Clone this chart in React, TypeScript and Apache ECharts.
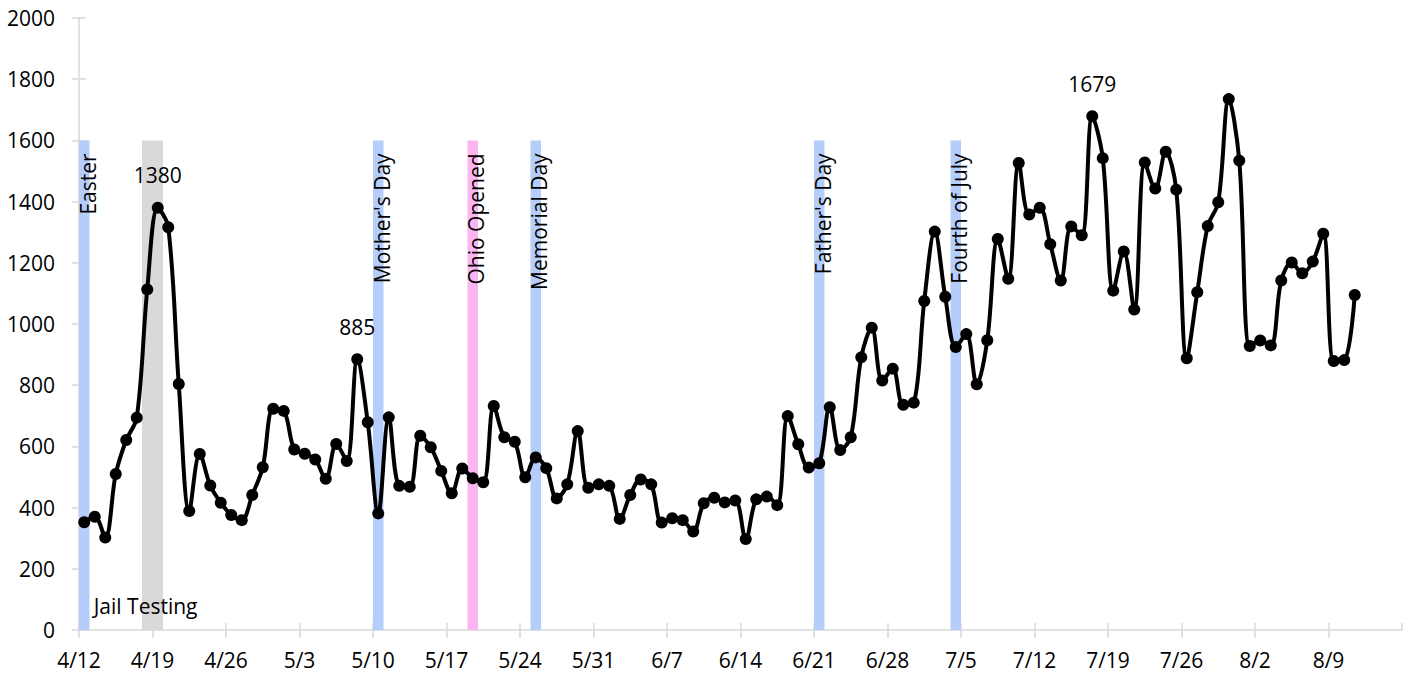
import React, { useEffect, useRef } from "react";
import * as echarts from "echarts";

// Daily values starting 4/12 (2020)
const startYear = 2020;
const startMonth = 4;
const startDay = 12;
const dailyValues: number[] = [
  352, 370, 302, 510, 621, 694, 1113, 1380, 1316, 804,
  389, 575, 472, 416, 376, 359, 441, 532, 723, 716,
  590, 576, 557, 494, 608, 552, 885, 679, 381, 695,
  471, 468, 635, 597, 520, 447, 528, 496, 483, 732,
  630, 615, 499, 564, 529, 430, 476, 650, 465, 476,
  471, 363, 441, 492, 476, 351, 365, 359, 322, 414,
  432, 417, 423, 297, 427, 436, 408, 699, 607, 531,
  545, 728, 588, 630, 891, 988, 815, 854, 736, 743,
  1075, 1302, 1089, 925, 967, 803, 947, 1278, 1148, 1526,
  1358, 1380, 1261, 1142, 1319, 1290, 1679, 1542, 1109, 1237,
  1047, 1528, 1443, 1563, 1439, 888, 1104, 1320, 1398, 1735,
  1534, 928, 946, 930, 1142, 1201, 1166, 1204, 1295, 879,
  882, 1095,
];
// indices (day numbers) whose values are labelled
const labelledDays: number[] = [7, 26, 96];

// event bars (day offset from 4/12, length in days)
const eventNames: string[] = ["Easter", "", "Mother's Day", "Ohio Opened", "Memorial Day", "Father's Day", "Fourth of July"];
const eventStart: number[] = [0, 6, 28, 37, 43, 70, 83];
const eventSpan: number[] = [1, 2, 1, 1, 1, 1, 1];
const eventKind: string[] = ["holiday", "testing", "holiday", "reopen", "holiday", "holiday", "holiday"];
const eventTop = 1600;

// free annotation
const annotationText: string[] = ["Jail Testing"];
const annotationDay: number[] = [1.4];
const annotationValue: number[] = [80];

// axes
const xMin = 0;
const xMax = 126;
const xInterval = 7;
const yMin = 0;
const yMax = 2000;
const yInterval = 200;

const kindColor: Record<string, string> = {
  holiday: "#b4cdfa",
  testing: "#d9d9d9",
  reopen: "#fbb6f1",
};

const FONT = "'Open Sans', Lato, sans-serif";
const FS = 21;

function dayLabel(u: number): string {
  const d = new Date(startYear, startMonth - 1, startDay + u);
  return `${d.getMonth() + 1}/${d.getDate()}`;
}

export default function App() {
  const ref = useRef<HTMLDivElement>(null);
  useEffect(() => {
    if (!ref.current) return;
    const chart = echarts.init(ref.current, undefined, { renderer: "svg" });

    const lineData = dailyValues.map((v, i) => {
      const item: any = { value: [i + 0.5, v] };
      if (labelledDays.includes(i)) {
        item.label = { show: true };
      }
      return item;
    });

    const eventData = eventStart.map((s, i) => [s, s + eventSpan[i], i]);
    const annData = annotationText.map((t, i) => [annotationDay[i], annotationValue[i], i]);

    const axisLineStyle = { color: "#d9d9d9", width: 1.5 };

    const option: any = {
      animation: false,
      grid: { left: 79, right: 9, top: 18, bottom: 47, containLabel: false },
      xAxis: [
        {
          type: "value",
          min: xMin,
          max: xMax,
          interval: xInterval,
          position: "bottom",
          splitLine: { show: false },
          axisLine: { show: true, lineStyle: axisLineStyle },
          axisTick: { show: true, inside: false, length: 8, lineStyle: axisLineStyle },
          axisLabel: {
            formatter: (v: number) => dayLabel(v),
            color: "#000",
            fontFamily: FONT,
            fontSize: FS,
            margin: 19,
            showMaxLabel: false,
          },
        },
        {
          type: "value",
          min: xMin,
          max: xMax,
          interval: xInterval,
          position: "bottom",
          splitLine: { show: false },
          axisLine: { show: false },
          axisTick: { show: true, inside: true, length: 7, lineStyle: axisLineStyle },
          axisLabel: { show: false },
        },
      ],
      yAxis: [
        {
          type: "value",
          min: yMin,
          max: yMax,
          interval: yInterval,
          position: "left",
          splitLine: { show: false },
          axisLine: { show: true, lineStyle: axisLineStyle },
          axisTick: { show: true, inside: false, length: 7, lineStyle: axisLineStyle },
          axisLabel: {
            color: "#000",
            fontFamily: FONT,
            fontSize: FS,
            margin: 24,
            formatter: (v: number) => String(v),
          },
        },
        {
          type: "value",
          min: yMin,
          max: yMax,
          interval: yInterval,
          position: "left",
          splitLine: { show: false },
          axisLine: { show: false },
          axisTick: { show: true, inside: true, length: 7, lineStyle: axisLineStyle },
          axisLabel: { show: false },
        },
      ],
      series: [
        {
          type: "custom",
          z: 1,
          silent: true,
          clip: false,
          data: eventData,
          encode: { x: [0, 1], y: -1 },
          renderItem: (params: any, api: any) => {
            const s = api.value(0);
            const e = api.value(1);
            const idx = api.value(2);
            const p0 = api.coord([s, eventTop]);
            const p1 = api.coord([e, 0]);
            const children: any[] = [
              {
                type: "rect",
                shape: { x: p0[0], y: p0[1], width: p1[0] - p0[0], height: p1[1] - p0[1] },
                style: { fill: kindColor[eventKind[idx]] },
              },
            ];
            if (eventNames[idx]) {
              children.push({
                type: "text",
                x: p0[0] - 2,
                y: p0[1] + 13,
                rotation: Math.PI / 2,
                style: {
                  text: eventNames[idx],
                  fill: "#000",
                  fontFamily: FONT,
                  fontSize: FS,
                  align: "right",
                  verticalAlign: "top",
                },
              });
            }
            return { type: "group", children };
          },
        },
        {
          type: "custom",
          z: 2,
          silent: true,
          clip: false,
          data: annData,
          renderItem: (params: any, api: any) => {
            const idx = api.value(2);
            const p = api.coord([api.value(0), api.value(1)]);
            return {
              type: "text",
              x: p[0],
              y: p[1],
              style: {
                text: annotationText[idx],
                fill: "#000",
                fontFamily: FONT,
                fontSize: FS,
                align: "left",
                verticalAlign: "middle",
              },
            };
          },
        },
        {
          type: "line",
          z: 3,
          data: lineData,
          smooth: 0.35,
          symbol: "circle",
          symbolSize: 12,
          showAllSymbol: true,
          itemStyle: { color: "#000" },
          lineStyle: { color: "#000", width: 4 },
          label: {
            show: false,
            position: "top",
            distance: 16,
            color: "#000",
            fontFamily: FONT,
            fontSize: FS,
            formatter: (p: any) => String(p.value[1]),
          },
        },
      ],
    };
    chart.setOption(option);
    return () => chart.dispose();
  }, []);
  return (
    <div
      ref={ref}
      style={{ position: "fixed", left: 0, top: 0, width: 1411, height: 677, background: "#fff" }}
    />
  );
}
